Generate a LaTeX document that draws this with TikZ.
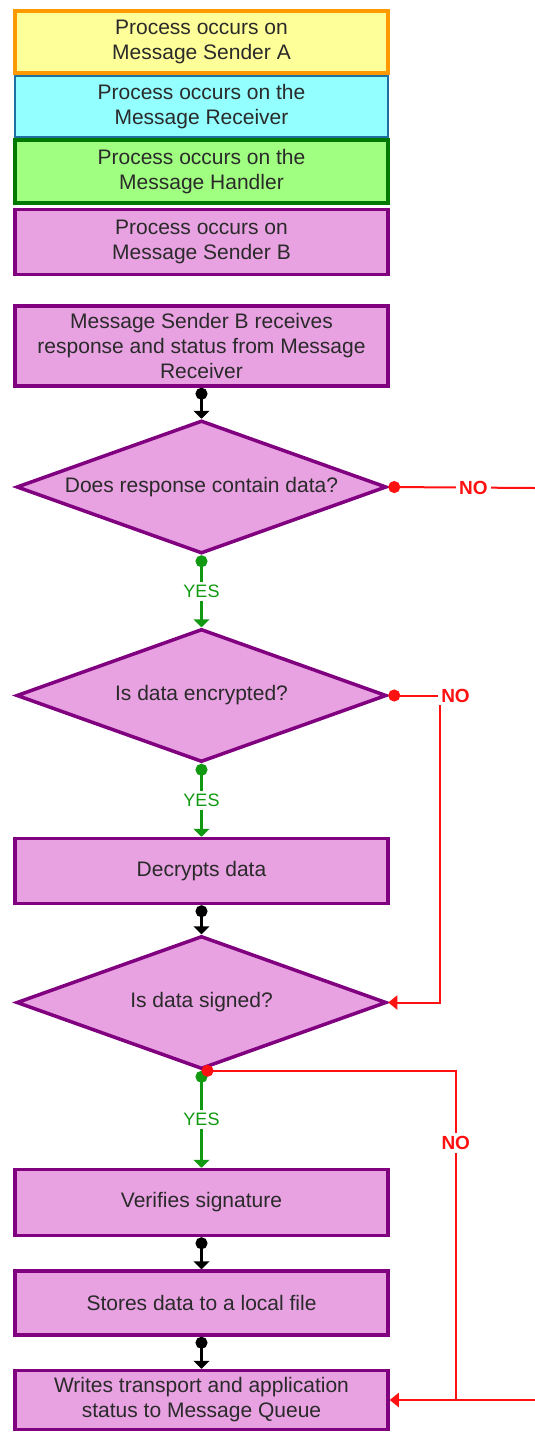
\documentclass[tikz,border=0pt]{standalone}
\usepackage{fontspec}
\setmainfont{Liberation Sans}
\usetikzlibrary{arrows.meta, positioning, shapes.geometric, calc}
\definecolor{orangeline}{HTML}{FF9900}
\definecolor{yellowfill}{HTML}{FFFF99}
\definecolor{blueline}{HTML}{1F6FA0}
\definecolor{cyanfill}{HTML}{93FFFF}
\definecolor{greenline}{HTML}{007A00}
\definecolor{greenfill}{HTML}{A0FF80}
\definecolor{purpleline}{HTML}{800080}
\definecolor{pinkfill}{HTML}{E8A2E2}
\definecolor{yesgreen}{HTML}{119911}
\definecolor{nored}{HTML}{FF1111}
\definecolor{textgrey}{HTML}{2A2A2A}

\begin{document}
\begin{tikzpicture}[
	x=1pt, y=1pt,
	box/.style={rectangle, draw=purpleline, fill=pinkfill, line width=3.5pt, minimum width=373pt, align=center, text=textgrey, font=\fontsize{21}{25}\selectfont},
	legendA/.style={box, draw=orangeline, fill=yellowfill, minimum height=62pt},
	legendR/.style={box, draw=blueline, fill=cyanfill, line width=2.5pt, minimum height=61pt},
	legendH/.style={box, draw=greenline, fill=greenfill, minimum height=63pt},
	legendB/.style={box, minimum height=65pt},
	decision/.style={diamond, aspect=2.8, draw=purpleline, fill=pinkfill, line width=3.5pt, minimum width=370pt, minimum height=133pt, inner sep=0pt, text=textgrey, font=\fontsize{21}{25}\selectfont},
	flow/.style={line width=2.2pt, {Circle[length=12pt]}-{Triangle[width=16pt,length=8pt]}},
	yesflow/.style={flow, yesgreen},
	noline/.style={line width=2pt, nored},
	noflow/.style={noline, {Circle[length=12pt]}-{Triangle[width=14pt,length=9pt]}},
	yeslabel/.style={fill=white, text=yesgreen, inner sep=3pt, font=\fontsize{18}{20}\selectfont},
	nolabel/.style={fill=white, text=nored, inner sep=3pt, font=\fontsize{19}{20}\selectfont\bfseries}
	]
	\useasboundingbox[fill=white] (0,0) rectangle (535,-1437);
	\node[legendR] (receiver) at (201.5,-106.5) {Process occurs on the\\Message Receiver};
	\node[legendA, above=0pt of receiver] (senderA) {Process occurs on\\Message Sender A};
	\node[legendH, below=0pt of receiver] (handler) {Process occurs on the\\Message Handler};
	\node[legendB, below=3pt of handler] (senderB) {Process occurs on\\Message Sender B};
	\node[box, minimum height=80pt, below=28pt of senderB] (resp) {Message Sender B receives\\response and status from Message\\Receiver};
	\node[decision, below=31pt of resp] (hasdata) {Does response contain data?};
	\node[decision, below=72pt of hasdata] (encrypted) {Is data encrypted?};
	\node[box, minimum height=65pt, below=73pt of encrypted] (decrypt) {Decrypts data};
	\node[decision, below=29pt of decrypt] (signed) {Is data signed?};
	\node[box, minimum height=66pt, below=97pt of signed] (verify) {Verifies signature};
	\node[box, minimum height=64pt, below=32pt of verify] (store) {Stores data to a local file};
	\node[box, minimum height=59pt, below=32pt of store] (writes) {Writes transport and application\\status to Message Queue};
	\coordinate (exitR) at (535,-488);
	\coordinate (entryR) at (exitR |- writes.east);
	\draw[flow] (resp) -- (hasdata);
	\draw[yesflow] (hasdata.south) -- node[yeslabel] {YES} (encrypted.north);
	\draw[yesflow] (encrypted.south) -- node[yeslabel] {YES} (decrypt.north);
	\draw[flow] (decrypt) -- (signed);
	\draw[yesflow] (signed.south) -- node[yeslabel] {YES} (verify.north);
	\draw[flow] (verify) -- (store);
	\draw[flow] (store) -- (writes);
	\draw[noline, {Circle[length=12pt]}-] (hasdata.east) -- node[nolabel, pos=0.58] {NO} (exitR);
	\draw[noflow] (encrypted.east) -- ++(52,0) node[nolabel, anchor=west, xshift=-3pt] {NO} |- (signed.east);
	\draw[noflow] (signed.south) -| node[nolabel, pos=0.61] {NO} ($(writes.east)+(66,0)$) coordinate (join) -- (writes.east);
	\draw[noline] (entryR) -- (join);
\end{tikzpicture}
\end{document}
